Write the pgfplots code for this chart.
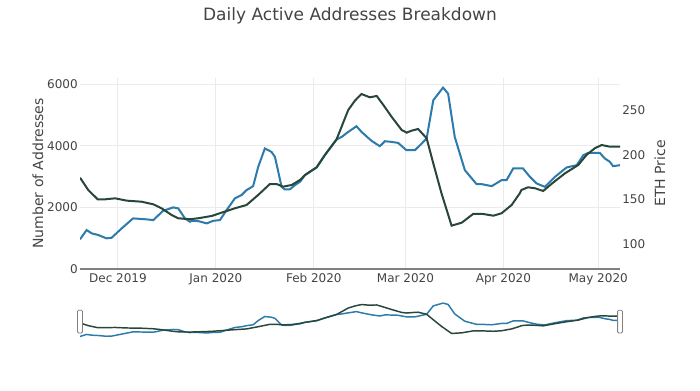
\documentclass[border=0pt]{standalone}
\usepackage{fontspec}
\setmainfont{DejaVu Sans}
\usepackage{pgfplots}
\usepackage{pgfplotstable}
\pgfplotsset{compat=1.18}
\definecolor{txt}{HTML}{444444}
\definecolor{addr}{RGB}{45,122,172}
\definecolor{eth}{RGB}{40,70,58}
\definecolor{gridc}{HTML}{EBEBEB}

\pgfplotstableread{
day val
-12.0 963
-9.9 1264
-8.3 1157
-6.2 1102
-3.6 995
-2.0 1014
1.2 1319
4.8 1643
9.1 1611
11.2 1588
14.3 1890
17.5 2000
19.1 1967
21.2 1643
22.8 1533
23.3 1565
25.4 1556
28.1 1481
30.2 1565
32.3 1588
34.4 1912
37.0 2291
39.1 2398
40.7 2560
42.8 2690
44.4 3316
46.5 3912
48.6 3802
49.7 3640
51.8 2667
52.8 2583
54.4 2583
56.0 2722
57.6 2829
59.2 3047
62.9 3296
65.5 3695
69.2 4204
70.8 4288
72.9 4450
75.5 4635
77.1 4450
80.3 4158
82.9 3986
84.5 4148
86.6 4126
88.7 4093
91.3 3857
94.0 3857
95.6 4019
97.7 4236
99.8 5477
102.9 5889
104.5 5694
106.6 4288
109.8 3209
113.5 2755
115.1 2755
118.3 2690
121.4 2884
123.0 2884
125.1 3264
128.2 3264
130.4 2991
132.5 2778
135.1 2667
138.3 2991
142.0 3296
145.2 3371
147.3 3695
148.8 3769
152.5 3769
154.1 3588
155.7 3478
156.7 3338
158.9 3371
}\addrtable

\pgfplotstableread{
day val
-12.0 174.5
-9.4 160.7
-6.4 150.2
-4.1 150.2
-0.9 151.3
2.8 148.7
7.5 147.5
11.2 144.6
13.8 140.1
17.0 132.6
19.1 128.9
22.8 127.8
25.4 128.9
29.7 131.5
32.8 135.2
37.0 140.1
40.7 143.8
44.4 155.1
48.1 167.4
50.2 167.4
52.3 164.4
55.0 166.3
57.6 171.9
59.2 177.5
62.9 186.2
65.5 200.0
69.2 217.6
72.9 250.6
75.0 261.0
77.1 268.5
79.7 264.8
81.9 266.3
84.0 256.2
86.6 243.0
89.8 228.1
91.4 225.1
92.9 227.3
95.0 229.2
97.7 218.8
99.8 190.7
102.4 157.0
105.6 120.6
108.8 123.9
112.4 133.7
115.6 133.7
118.8 131.8
121.4 134.5
124.6 143.8
127.2 157.0
127.7 160.7
129.8 163.7
132.0 162.6
134.6 159.6
137.7 168.9
141.5 179.4
145.7 188.8
148.3 200.0
150.9 207.5
153.1 211.2
155.7 209.3
158.9 209.3
}\ethtable

\begin{document}
\begin{tikzpicture}
\path[use as bounding box] (0,0) rectangle (525pt,292.5pt);
\node[font=\fontsize{12.75}{15}\selectfont, text=txt] at (262.5pt,280.5pt) {Daily Active Addresses Breakdown};

% main left axis
\begin{axis}[
  at={(60pt,90.75pt)}, anchor=south west, scale only axis,
  width=405pt, height=143.25pt,
  xmin=-12, xmax=158.9, ymin=0, ymax=6200,
  axis y line*=left, axis x line*=bottom,
  axis line style={draw=none},
  xtick={0,31,62,91,122,152},
  xticklabels={Dec 2019,Jan 2020,Feb 2020,Mar 2020,Apr 2020,May 2020},
  ytick={0,2000,4000,6000},
  grid=major, grid style={gridc, line width=0.75pt},
  major tick length=0pt,
  tick label style={font=\fontsize{9}{10}\selectfont, text=txt},
  /pgf/number format/assume math mode=true,
  /pgf/number format/1000 sep={},
  yticklabel style={inner sep=0pt, xshift=-1.5pt},
  xticklabel style={inner sep=0pt, yshift=-3pt},
  ylabel={Number of Addresses},
  ylabel style={at={(axis description cs:-0.0778,0.5)}, anchor=center, font=\fontsize{10.5}{12}\selectfont, text=txt},
  extra y ticks={0}, extra y tick labels={},
  extra y tick style={grid style={gray, line width=1.5pt}},
]
\addplot[addr, line width=1.5pt] table[x=day, y=val] {\addrtable};
\end{axis}

% main right axis
\begin{axis}[
  at={(60pt,90.75pt)}, anchor=south west, scale only axis,
  width=405pt, height=143.25pt,
  xmin=-12, xmax=158.9, ymin=71.9, ymax=286.5,
  axis y line*=right, hide x axis,
  axis line style={draw=none},
  ytick={100,150,200,250},
  major tick length=0pt,
  tick label style={font=\fontsize{9}{10}\selectfont, text=txt},
  /pgf/number format/assume math mode=true,
  yticklabel style={inner sep=0pt, xshift=1.5pt},
  ylabel={ETH Price},
  ylabel style={at={(axis description cs:1.074,0.5)}, anchor=center, rotate=0, font=\fontsize{10.5}{12}\selectfont, text=txt},
]
\addplot[eth, line width=1.5pt] table[x=day, y=val] {\ethtable};
\end{axis}

% range slider
\begin{axis}[
  at={(60pt,35.25pt)}, anchor=south west, scale only axis,
  width=405pt, height=31.5pt,
  xmin=-12, xmax=158.9, ymin=0, ymax=6200,
  hide axis,
]
\addplot[addr, line width=1.1pt] table[x=day, y=val] {\addrtable};
\end{axis}
\begin{axis}[
  at={(60pt,35.25pt)}, anchor=south west, scale only axis,
  width=405pt, height=31.5pt,
  xmin=-12, xmax=158.9, ymin=71.9, ymax=286.5,
  hide axis, clip=false,
]
\addplot[eth, line width=1.1pt] table[x=day, y=val] {\ethtable};
\draw[draw=gray, fill=white, line width=0.6pt, rounded corners=0.8pt]
  ([xshift=-1.8pt]rel axis cs:0,0.24) rectangle ([xshift=1.8pt]rel axis cs:0,0.78);
\draw[draw=gray, fill=white, line width=0.6pt, rounded corners=0.8pt]
  ([xshift=-1.8pt]rel axis cs:1,0.24) rectangle ([xshift=1.8pt]rel axis cs:1,0.78);
\end{axis}
\end{tikzpicture}
\end{document}
